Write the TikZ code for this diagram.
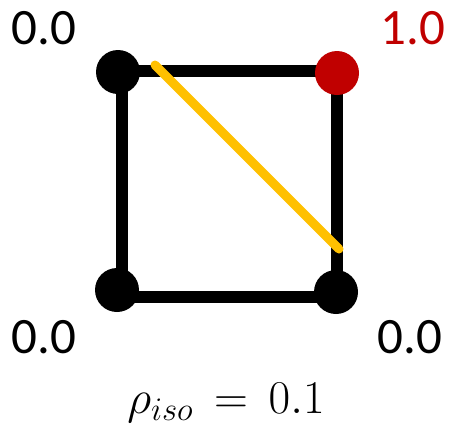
\RequirePackage{fix-cm}
\documentclass[tikz,border=0pt]{standalone}
\usepackage[no-math]{fontspec}
\setmainfont{Carlito}
\usepackage{xcolor}
\usetikzlibrary{calc}

\definecolor{cornerred}{HTML}{C00000}
\definecolor{diagyellow}{HTML}{FFC000}

\tikzset{
  vertex/.style={circle,fill=black,minimum size=44pt,inner sep=0pt},
  value/.style={anchor=base,inner sep=0pt,font=\fontsize{51}{60}\selectfont},
}

\begin{document}
\begin{tikzpicture}[x=1pt, y=-1pt, line join=round]
  \useasboundingbox (0,0) rectangle (449,432);
  \coordinate (S1) at (122,71);
  \coordinate (S2) at (337,71);
  \coordinate (S3) at (337,297);
  \coordinate (S4) at (122,297);
  \coordinate (D1) at (155,65);
  \coordinate (D2) at (339,249);
  \draw[line width=12pt] (S1) -- (S2) -- (S3) -- (S4) -- cycle;
  \draw[line width=9pt,diagyellow,line cap=round] (D1) -- (D2);
  \node[vertex] (V1) at (118,72) {};
  \node[vertex,fill=cornerred] (V2) at (337,73) {};
  \node[vertex] (V3) at (336,292) {};
  \node[vertex] (V4) at (117,290) {};
  \node[value] (L1) at (44,44) {0.0};
  \node[value,text=cornerred] (L2) at (413,44) {1.0};
  \node[value] (L3) at (44,353) {0.0};
  \node[value] (L4) at (410,353) {0.0};
  \node[anchor=base,inner sep=0pt,font=\fontsize{47}{55}\selectfont] (R) at (226,413) {$\rho_{iso} \mathrel{\,=\,} 0.1$};
\end{tikzpicture}
\end{document}
